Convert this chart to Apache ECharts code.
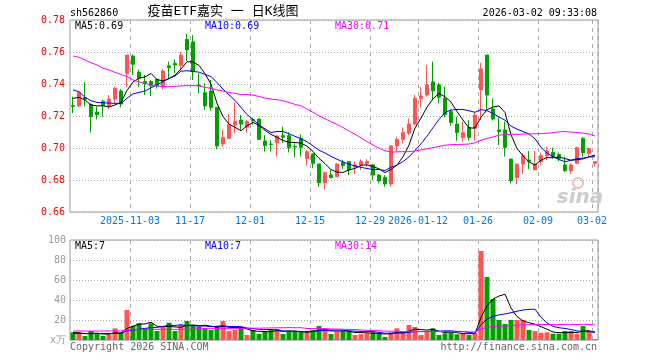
<!DOCTYPE html>
<html>
<head>
<meta charset="utf-8">
<script src="https://cdn.jsdelivr.net/npm/echarts@6/dist/echarts.min.js"></script>
<style>html,body{margin:0;padding:0;background:#fff;}#c{width:660px;height:360px;}</style>
</head>
<body>
<div id="c"></div>
<script>
const dates = [
'2025-10-20','2025-10-21','2025-10-22','2025-10-23','2025-10-24','2025-10-27','2025-10-28','2025-10-29','2025-10-30','2025-10-31',
'2025-11-03','2025-11-04','2025-11-05','2025-11-06','2025-11-07','2025-11-10','2025-11-11','2025-11-12','2025-11-13','2025-11-14',
'2025-11-17','2025-11-18','2025-11-19','2025-11-20','2025-11-21','2025-11-24','2025-11-25','2025-11-26','2025-11-27','2025-11-28',
'2025-12-01','2025-12-02','2025-12-03','2025-12-04','2025-12-05','2025-12-08','2025-12-09','2025-12-10','2025-12-11','2025-12-12',
'2025-12-15','2025-12-16','2025-12-17','2025-12-18','2025-12-19','2025-12-22','2025-12-23','2025-12-24','2025-12-25','2025-12-26',
'2025-12-29','2025-12-30','2025-12-31','2026-01-05','2026-01-06','2026-01-07','2026-01-08','2026-01-09',
'2026-01-12','2026-01-13','2026-01-14','2026-01-15','2026-01-16','2026-01-19','2026-01-20','2026-01-21','2026-01-22','2026-01-23',
'2026-01-26','2026-01-27','2026-01-28','2026-01-29','2026-01-30','2026-02-02','2026-02-03','2026-02-04','2026-02-05','2026-02-06',
'2026-02-09','2026-02-10','2026-02-11','2026-02-12','2026-02-13','2026-02-24','2026-02-25','2026-02-26','2026-02-27','2026-03-02'
];
const tickDates = ['2025-11-03','2025-11-17','2025-12-01','2025-12-15','2025-12-29','2026-01-12','2026-01-26','2026-02-09','2026-03-02'];
const tickLabels = ['2025-11-03','11-17','12-01','12-15','12-29','2026-01-12','01-26','02-09','03-02'];

const openP = [
0.7265,0.7263,0.7315,0.7273,0.7225,0.7292,0.7263,0.7306,0.7356,0.7467,
0.7575,0.7473,0.7415,0.7415,0.7429,0.7383,0.7513,0.7529,0.7515,0.7679,
0.7663,0.7394,0.7346,0.7356,0.7254,0.7025,0.7060,0.7144,0.7175,0.7129,
0.7177,0.7181,0.7044,0.7025,0.7033,0.7077,0.7077,0.7010,0.7060,0.6935,
0.6963,0.6900,0.6783,0.6831,0.6821,0.6910,0.6915,0.6881,0.6894,0.6904,
0.6894,0.6831,0.6815,0.6775,0.7013,0.7054,0.7092,0.7150,0.7308,0.7331,
0.7413,0.7394,0.7310,0.7227,0.7150,0.7065,0.7129,0.7123,0.7363,0.7581,
0.7244,0.7113,0.7113,0.6931,0.6815,0.6900,0.6925,0.6863,0.6915,0.6950,
0.6973,0.6960,0.6894,0.6858,0.6904,0.7060,0.6967,0.6904];
const closeP = [
0.7260,0.7346,0.7305,0.7196,0.7208,0.7263,0.7306,0.7373,0.7275,0.7581,
0.7523,0.7435,0.7404,0.7388,0.7388,0.7481,0.7502,0.7519,0.7581,0.7613,
0.7477,0.7388,0.7263,0.7254,0.7013,0.7065,0.7148,0.7165,0.7150,0.7165,
0.7170,0.7054,0.7015,0.7022,0.7075,0.7067,0.7002,0.7006,0.7004,0.6977,
0.6904,0.6783,0.6846,0.6815,0.6900,0.6890,0.6863,0.6894,0.6915,0.6915,
0.6831,0.6794,0.6775,0.7013,0.7054,0.7096,0.7150,0.7310,0.7325,0.7394,
0.7358,0.7317,0.7208,0.7160,0.7096,0.7096,0.7067,0.7206,0.7494,0.7331,
0.7181,0.7102,0.7004,0.6796,0.6900,0.6952,0.6917,0.6900,0.6952,0.6981,
0.6946,0.6935,0.6858,0.6894,0.7002,0.6971,0.6998,0.6915];
const lowP = [
0.7217,0.7254,0.7260,0.7096,0.7179,0.7196,0.7242,0.7279,0.7254,0.7380,
0.7456,0.7383,0.7331,0.7325,0.7371,0.7367,0.7435,0.7467,0.7483,0.7546,
0.7425,0.7342,0.7238,0.7233,0.6992,0.7008,0.7058,0.7092,0.7113,0.7096,
0.7144,0.7050,0.6977,0.6977,0.6946,0.7033,0.6973,0.6942,0.6946,0.6890,
0.6873,0.6758,0.6742,0.6810,0.6817,0.6869,0.6831,0.6838,0.6863,0.6883,
0.6800,0.6779,0.6758,0.6758,0.6977,0.7029,0.7081,0.7138,0.7254,0.7321,
0.7300,0.7279,0.7192,0.7138,0.7046,0.7040,0.7046,0.7046,0.7175,0.7233,
0.7171,0.7019,0.6946,0.6779,0.6775,0.6838,0.6869,0.6863,0.6894,0.6925,
0.6935,0.6919,0.6852,0.6838,0.6900,0.6942,0.6946,0.6883];
const highP = [
0.7321,0.7358,0.7412,0.7277,0.7258,0.7300,0.7331,0.7383,0.7367,0.7581,
0.7585,0.7488,0.7456,0.7425,0.7433,0.7494,0.7540,0.7554,0.7600,0.7713,
0.7706,0.7467,0.7404,0.7425,0.7254,0.7113,0.7213,0.7285,0.7206,0.7175,
0.7190,0.7185,0.7081,0.7050,0.7081,0.7133,0.7098,0.7029,0.7085,0.6988,
0.6967,0.6900,0.6852,0.6863,0.6904,0.6925,0.6915,0.6915,0.6929,0.6929,
0.6900,0.6838,0.6831,0.7013,0.7071,0.7129,0.7185,0.7331,0.7383,0.7519,
0.7540,0.7408,0.7383,0.7242,0.7196,0.7165,0.7175,0.7221,0.7533,0.7581,
0.7310,0.7192,0.7165,0.6931,0.6900,0.6967,0.6981,0.6981,0.6971,0.7008,
0.7002,0.6971,0.6946,0.6904,0.7008,0.7067,0.6998,0.6915];

const volume = [
7.7,6.3,4,9,6.7,4,5,11.7,7.3,30,
14.3,16.7,11.7,16.7,9,13.3,17.3,9,15,19,
15,13.3,11.7,10,14,19,9,10,12.3,5,
10,6,9,11,11,6,8.3,8.3,8.3,7.3,
10,14,11.7,6,8.3,9,9,5,6,6.7,
7.7,6.7,3,7.3,11.7,7.3,15,13,5,9,
11.7,5,6.7,7.7,5.7,6.7,5,6.7,89,63,
41,20,16,20,20,20,10,9,7.3,7.7,
6.3,6.3,9,9,6.3,14,8.3,1];

// leading moving-average values (need history before the first visible day)
const ma5Head = [0.7310,0.7317,0.7300,0.7269];
const ma10Head = [0.7363,0.7352,0.7317,0.7296,0.7285,0.7283,0.7281,0.7279,0.7279];
const ma30Head = [0.7575,0.7567,0.7550,0.7533,0.7519,0.7498,0.7488,0.7473,0.7460,0.7446,0.7425,0.7413,0.7404,0.7394,0.7388,0.7383,0.7383,0.7385,0.7388,0.7390,0.7390,0.7388,0.7379,0.7373,0.7363,0.7356,0.7346,0.7342,0.7333];
const vma5Head = [7.3,7.3,6.3,6.3];
const vma10Head = [6.5,6.5,6.5,6.7,6.7,6.5,6.5,6.5,6.5];
const vma30Head = [9,9,9,9,9,9,9,9,9,10,10,10.7,10.7,10.7,10.7,10.7,10.7,10.7,10.7,10.7,10.7,11.3,11.3,11.3,11.3,11.3,11.3,11.3,11.3];

function movingAvg(values, n, head) {
  return values.map(function (_, i) {
    if (i < n - 1) return head[i];
    let s = 0;
    for (let k = i - n + 1; k <= i; k++) s += values[k];
    return +(s / n).toFixed(4);
  });
}

const UP = '#ff5555', DOWN = '#00a000';
const MONO = '"DejaVu Sans Mono", monospace';
const tickIdx = tickDates.map(d => dates.indexOf(d));
const isTick = (i) => tickIdx.indexOf(i) >= 0;

const kData = dates.map((d, i) => [openP[i], closeP[i], lowP[i], highP[i]]);
const volData = volume.map((v, i) => ({
  value: v,
  itemStyle: { color: closeP[i] > openP[i] ? UP : DOWN }
}));

function txt(x, y, text, fill, align, font) {
  return {
    type: 'text', x: x, y: y, silent: true, z: 100,
    style: { text: text, fill: fill, font: font || ('10px ' + MONO),
             align: align || 'left', verticalAlign: 'middle',
             textAlign: align || 'left', textVerticalAlign: 'middle' }
  };
}

const chart = echarts.init(document.getElementById('c'), null, { renderer: 'canvas' });
const splitX = { show: true, interval: (i) => isTick(i), lineStyle: { color: '#aaa', type: [4, 4], width: 1 } };
const option = {
  animation: false,
  backgroundColor: '#fff',
  grid: [
    { left: 70, top: 20, width: 528, height: 192, show: true, borderColor: '#999', borderWidth: 1, backgroundColor: 'transparent' },
    { left: 70, top: 240, width: 528, height: 100, show: true, borderColor: '#999', borderWidth: 1, backgroundColor: 'transparent' }
  ],
  xAxis: [
    { type: 'category', gridIndex: 0, data: dates, boundaryGap: true,
      axisLine: { show: false }, axisTick: { show: false },
      axisLabel: { interval: (i) => isTick(i), formatter: (v) => tickLabels[tickDates.indexOf(v)],
                   color: '#0077dd', fontFamily: MONO, fontSize: 10, margin: 4, padding: [0, 6, 0, 0] },
      splitLine: splitX },
    { type: 'category', gridIndex: 1, data: dates, boundaryGap: true,
      axisLine: { show: false }, axisTick: { show: false }, axisLabel: { show: false },
      splitLine: splitX }
  ],
  yAxis: [
    { type: 'value', gridIndex: 0, min: 0.66, max: 0.78, interval: 0.02,
      axisLine: { show: false }, axisTick: { show: false },
      axisLabel: { color: '#ff0000', fontFamily: MONO, fontSize: 10, margin: 5, formatter: (v) => v.toFixed(2) },
      splitLine: { show: true, lineStyle: { color: '#aaa', type: [1, 2] } } },
    { type: 'value', gridIndex: 1, min: 0, max: 100, interval: 20,
      axisLine: { show: false }, axisTick: { show: false },
      axisLabel: { color: '#999', fontFamily: MONO, fontSize: 10, margin: 4, formatter: (v) => v === 0 ? 'x万' : String(v) },
      splitLine: { show: true, lineStyle: { color: '#aaa', type: [1, 2] } } }
  ],
  series: [
    { type: 'candlestick', xAxisIndex: 0, yAxisIndex: 0, data: kData, barWidth: 4,
      itemStyle: { color: UP, color0: DOWN, borderColor: UP, borderColor0: DOWN, borderWidth: 1 } },
    { type: 'line', xAxisIndex: 0, yAxisIndex: 0, data: movingAvg(closeP, 5, ma5Head), symbol: 'none', lineStyle: { color: '#000', width: 1 }, z: 5 },
    { type: 'line', xAxisIndex: 0, yAxisIndex: 0, data: movingAvg(closeP, 10, ma10Head), symbol: 'none', lineStyle: { color: '#0000ff', width: 1 }, z: 5 },
    { type: 'line', xAxisIndex: 0, yAxisIndex: 0, data: movingAvg(closeP, 30, ma30Head), symbol: 'none', lineStyle: { color: '#ff00ff', width: 1 }, z: 5 },
    { type: 'bar', xAxisIndex: 1, yAxisIndex: 1, data: volData, barWidth: 5 },
    { type: 'line', xAxisIndex: 1, yAxisIndex: 1, data: movingAvg(volume, 5, vma5Head), symbol: 'none', lineStyle: { color: '#000', width: 1 }, z: 5 },
    { type: 'line', xAxisIndex: 1, yAxisIndex: 1, data: movingAvg(volume, 10, vma10Head), symbol: 'none', lineStyle: { color: '#0000ff', width: 1 }, z: 5 },
    { type: 'line', xAxisIndex: 1, yAxisIndex: 1, data: movingAvg(volume, 30, vma30Head), symbol: 'none', lineStyle: { color: '#ff00ff', width: 1 }, z: 5 }
  ],
  graphic: [
    txt(70, 13, 'sh562860', '#000'),
    txt(223, 12, '疫苗ETF嘉实 一 日K线图', '#000', 'center', '13px "DejaVu Sans Mono", "Noto Sans CJK SC", sans-serif'),
    txt(597, 13, '2026-03-02 09:33:08', '#000', 'right'),
    txt(75, 26, 'MA5:0.69', '#000'),
    txt(205, 26, 'MA10:0.69', '#0000ff'),
    txt(335, 26, 'MA30:0.71', '#ff00ff'),
    txt(75, 246, 'MA5:7', '#000'),
    txt(205, 246, 'MA10:7', '#0000ff'),
    txt(335, 246, 'MA30:14', '#ff00ff'),
    txt(70, 347, 'Copyright 2026 SINA.COM', '#666'),
    txt(597, 347, 'http://finance.sina.com.cn', '#666', 'right'),
    { type: 'circle', shape: { cx: 578, cy: 183, r: 5 }, style: { fill: 'none', stroke: '#f2b8b8', lineWidth: 2 }, silent: true, z: 1 },
    txt(580, 198, 'sina', '#cccccc', 'center', 'italic bold 20px "DejaVu Sans", sans-serif')
  ]
};
chart.setOption(option);
</script>
</body>
</html>
